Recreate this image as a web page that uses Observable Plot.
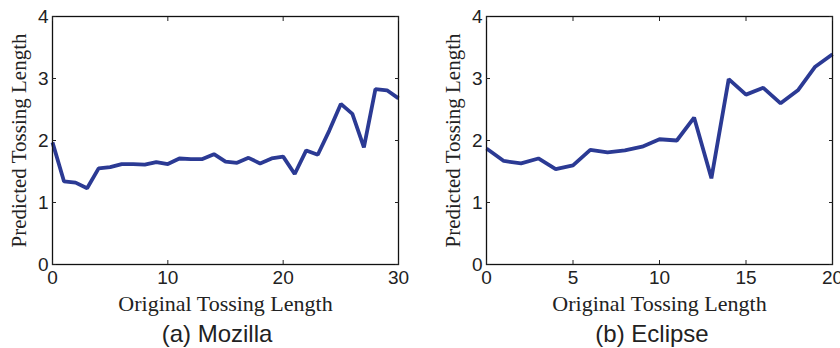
<!DOCTYPE html>
<html><head><meta charset="utf-8">
<script src="https://cdn.jsdelivr.net/npm/d3@7"></script>
<script src="https://cdn.jsdelivr.net/npm/@observablehq/plot@0.6"></script>
<style>
body{margin:0;background:#fff;}
#wrap{position:relative;width:840px;height:348px;overflow:hidden;background:#fff;}
.panel{position:absolute;top:0;width:420px;}
.caption{position:absolute;top:322px;width:300px;text-align:center;font-family:"Liberation Sans",Arial,sans-serif;font-size:24px;line-height:24px;color:#222;}
</style></head><body>
<div id="wrap">
  <div class="panel" id="pa" style="left:0"></div>
  <div class="panel" id="pb" style="left:420px"></div>
  <div class="caption" style="left:67px">(a) Mozilla</div>
  <div class="caption" style="left:502px">(b) Eclipse</div>
</div>
<script>
// Mozilla: predicted tossing length for original lengths 0..30
const mozillaValues = [1.97, 1.34, 1.32, 1.23, 1.55, 1.57, 1.62, 1.62, 1.61, 1.65, 1.62, 1.71, 1.70, 1.70, 1.78, 1.66, 1.64, 1.72, 1.63, 1.71, 1.74, 1.46, 1.84, 1.77, 2.16, 2.59, 2.43, 1.89, 2.83, 2.81, 2.68];
// Eclipse: predicted tossing length for original lengths 0..20
const eclipseValues = [1.87, 1.67, 1.63, 1.71, 1.54, 1.60, 1.85, 1.81, 1.84, 1.90, 2.02, 2.00, 2.37, 1.39, 2.99, 2.74, 2.85, 2.60, 2.81, 3.19, 3.39];
const mozillaXTicks = [0, 10, 20, 30];
const eclipseXTicks = [0, 5, 10, 15, 20];
const yTicks = [0, 1, 2, 3, 4];
const xLabel = "Original Tossing Length";
const yLabel = "Predicted Tossing Length";

function panel(values, xTicks, marginLeft, marginRight) {
  const data = values.map((v, i) => ({x: i, y: v}));
  const xMax = xTicks[xTicks.length - 1];
  const serif = '"Liberation Serif", "Times New Roman", serif';
  const blank = () => "";
  const intFmt = d3.format("d");
  return Plot.plot({
    width: 420, height: 318,
    marginLeft, marginRight, marginTop: 16, marginBottom: 54,
    style: {fontFamily: '"Liberation Sans", Arial, sans-serif', fontSize: "19px", color: "#222", background: "#fff", overflow: "visible"},
    x: {domain: [0, xMax]},
    y: {domain: [0, 4]},
    marks: [
      Plot.line(data, {x: "x", y: "y", stroke: "#2b3a94", strokeWidth: 3.8, strokeLinejoin: "miter", strokeLinecap: "butt"}),
      Plot.frame({stroke: "#111", strokeWidth: 1.3}),
      Plot.axisX({ticks: xTicks, anchor: "bottom", tickSize: 0, tickPadding: 6, tickFormat: intFmt, label: null}),
      Plot.axisX({ticks: xTicks, anchor: "bottom", tickSize: -4, tickFormat: blank, label: null}),
      Plot.axisX({ticks: xTicks, anchor: "top", tickSize: -4, tickFormat: blank, label: null}),
      Plot.axisY({ticks: yTicks, anchor: "left", tickSize: 0, tickPadding: 4, tickFormat: intFmt, label: null}),
      Plot.axisY({ticks: yTicks, anchor: "left", tickSize: -4, tickFormat: blank, label: null}),
      Plot.axisY({ticks: yTicks, anchor: "right", tickSize: -4, tickFormat: blank, label: null}),
      Plot.text([xLabel], {text: d => d, frameAnchor: "bottom", dy: 39, lineAnchor: "middle", textAnchor: "middle", fontFamily: serif, fontSize: 22, fill: "#222"}),
      Plot.text([yLabel], {text: d => d, frameAnchor: "left", dx: -33, rotate: -90, lineAnchor: "middle", textAnchor: "middle", fontFamily: serif, fontSize: 21, fill: "#222"})
    ]
  });
}

document.getElementById("pa").append(panel(mozillaValues, mozillaXTicks, 52, 22));
document.getElementById("pb").append(panel(eclipseValues, eclipseXTicks, 66, 8));
</script>
</body></html>
